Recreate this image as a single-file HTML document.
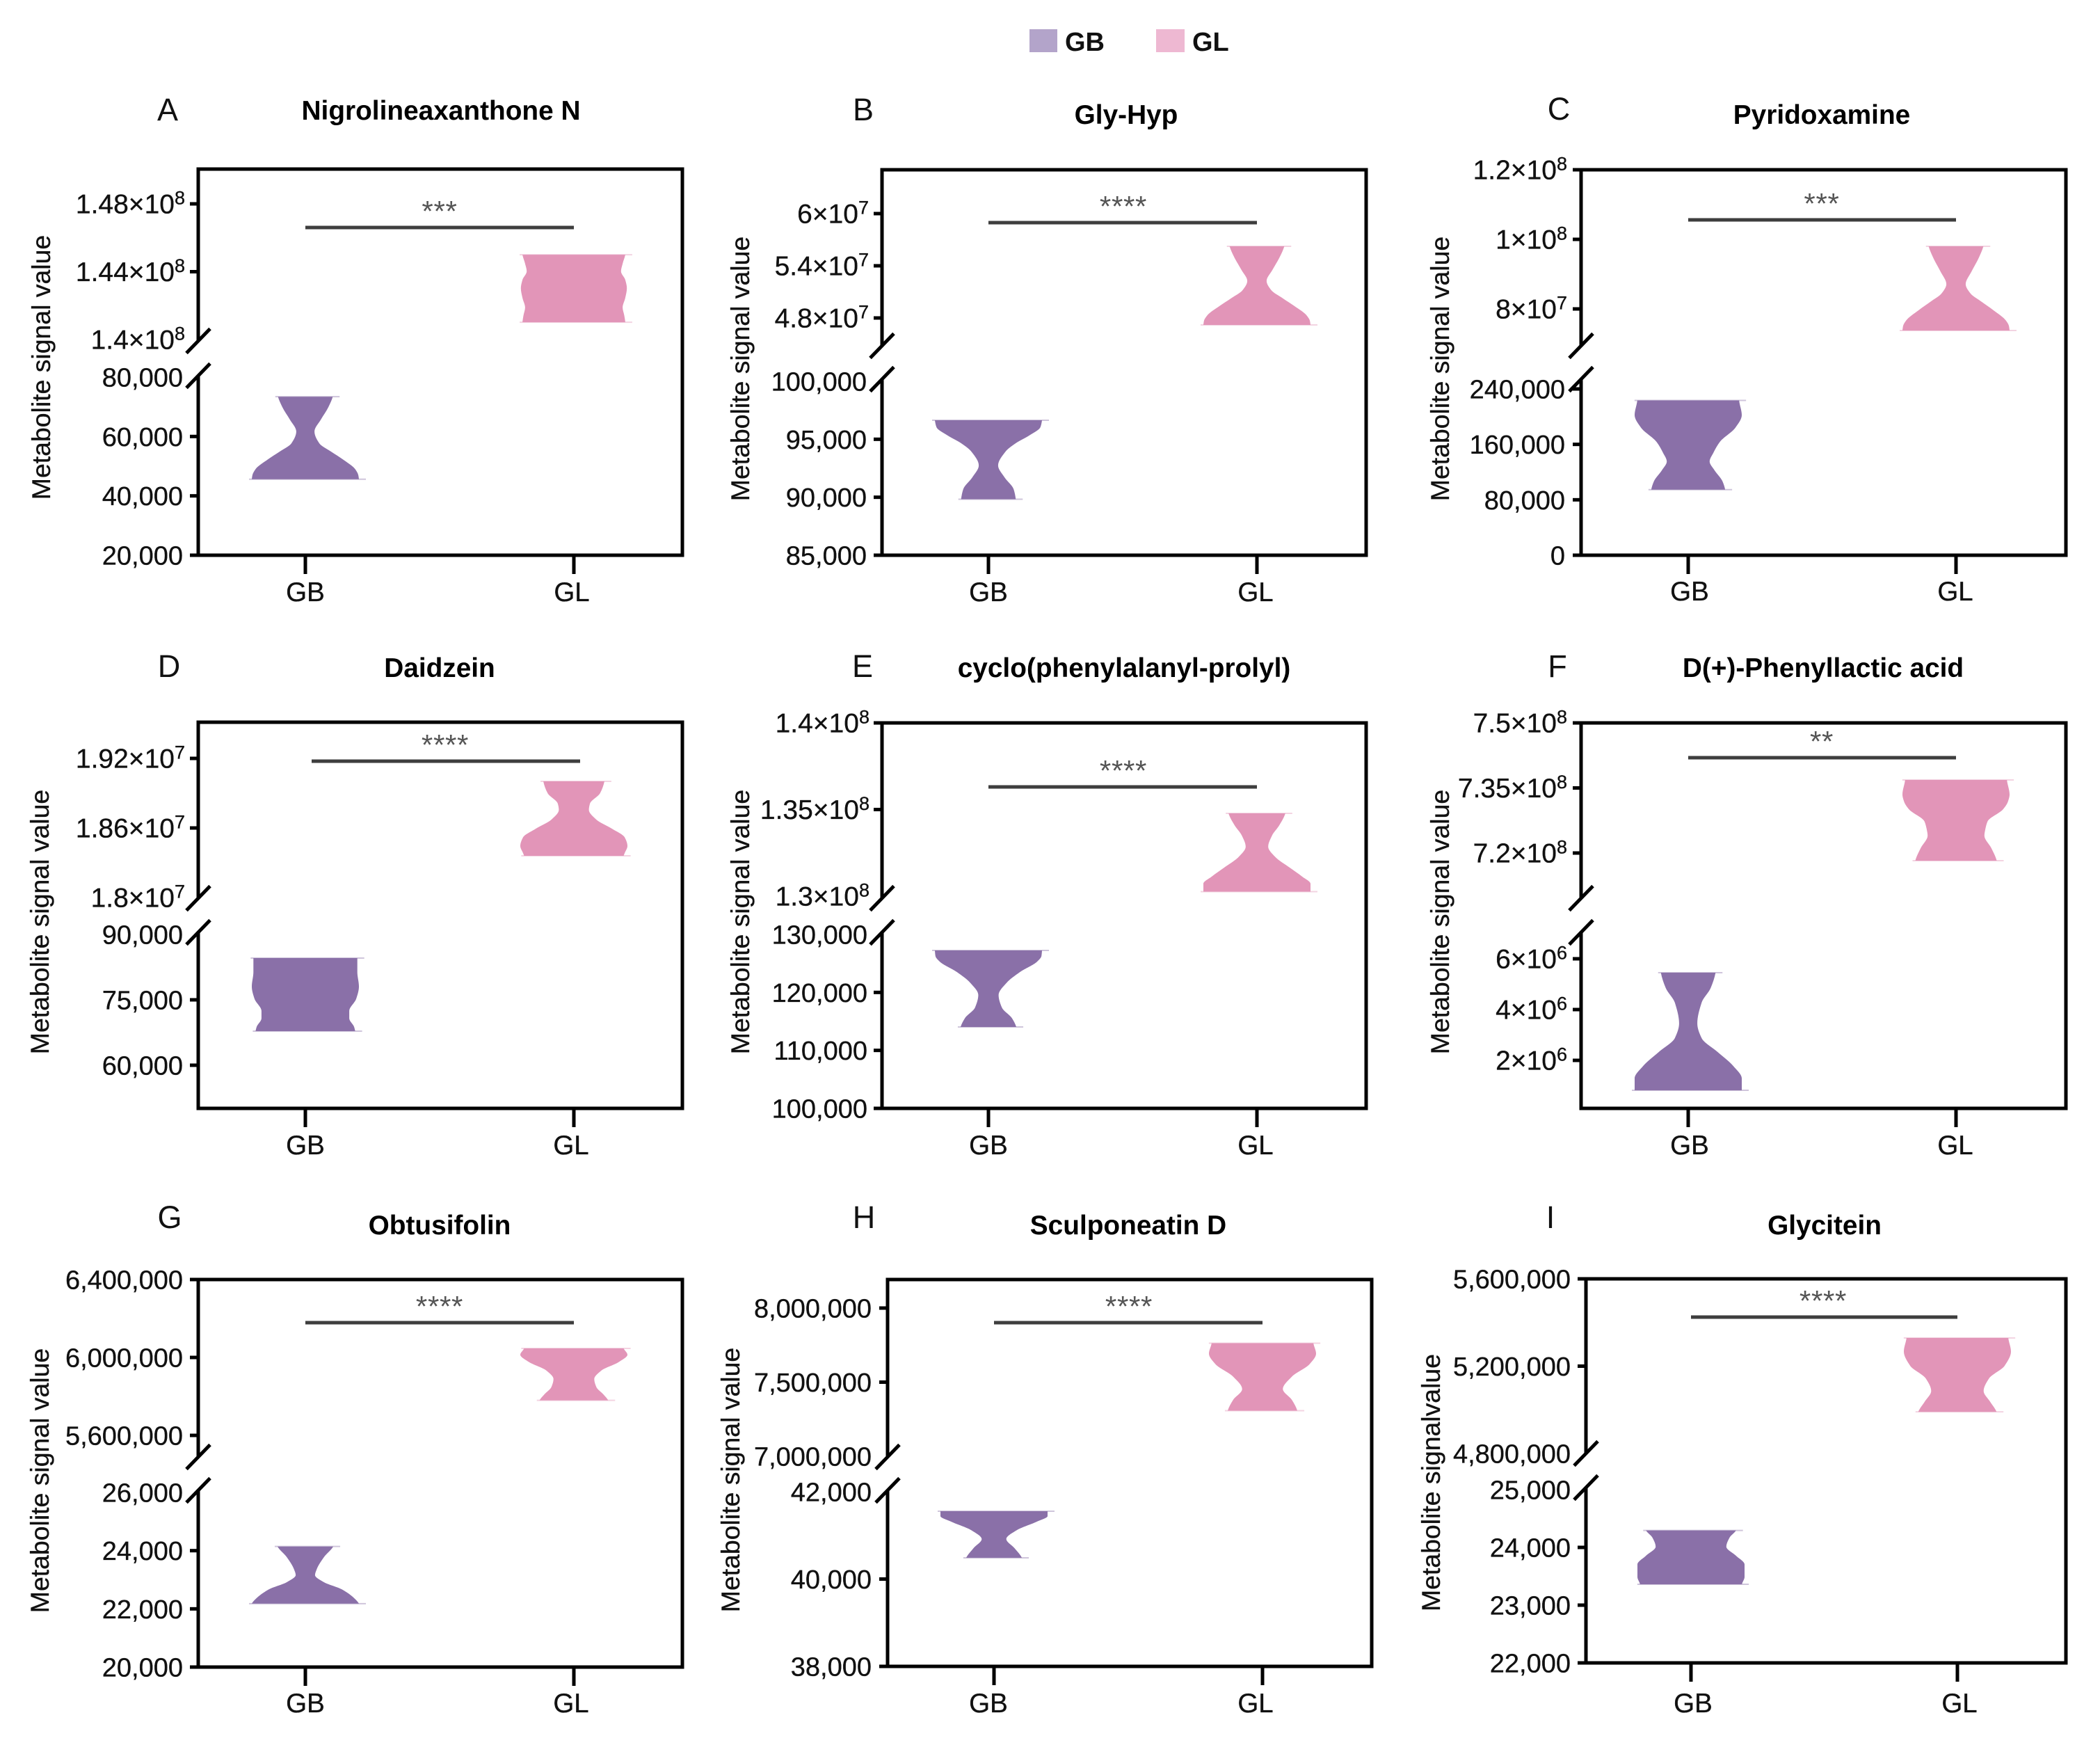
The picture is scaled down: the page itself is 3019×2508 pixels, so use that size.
<!DOCTYPE html>
<html lang="en">
<head>
<meta charset="utf-8">
<title>Metabolite violin plots</title>
<style>
html,body{margin:0;padding:0;background:#fff;}
svg{display:block;font-family:"Liberation Sans",Arial,sans-serif;}
.title{font-size:38.8px;font-weight:bold;text-anchor:middle;fill:#000;}
.letter{font-size:45px;text-anchor:middle;fill:#111;}
.ytitle{font-size:37.4px;text-anchor:middle;fill:#111;stroke:#111;stroke-width:.35px;}
.xlab{font-size:38.5px;text-anchor:middle;fill:#111;stroke:#111;stroke-width:.35px;}
.stars{font-size:42px;letter-spacing:.7px;text-anchor:middle;fill:#555;transform:translateY(-3px);}
.legend{font-size:38px;font-weight:bold;fill:#111;}
.tick{font-size:38px;text-anchor:end;fill:#111;stroke:#111;stroke-width:.35px;}
.tick-sci{font-size:39px;}
</style>
</head>
<body>
<svg id="figure" xmlns="http://www.w3.org/2000/svg" width="3019" height="2508" viewBox="0 0 3019 2508">
<rect x="0" y="0" width="3019" height="2508" fill="#fff"/>
<g>
<rect x="1480" y="42" width="40" height="33" fill="#b3a4ca"/>
<text class="legend" x="1531" y="73">GB</text>
<rect x="1662" y="42" width="41" height="33" fill="#eeb8d2"/>
<text class="legend" x="1714" y="73">GL</text>
</g>

<text class="letter" x="241" y="173">A</text>
<text class="title" x="634" y="172">Nigrolineaxanthone N</text>
<text class="ytitle" transform="translate(72 528) rotate(-90)">Metabolite signal value</text>
<text class="xlab" x="439" y="864">GB</text>
<text class="xlab" x="822" y="864">GL</text>
<text class="stars" x="632" y="321">***</text>

<text class="letter" x="1241" y="173">B</text>
<text class="title" x="1619" y="178">Gly-Hyp</text>
<text class="ytitle" transform="translate(1077 530) rotate(-90)">Metabolite signal value</text>
<text class="xlab" x="1421" y="864">GB</text>
<text class="xlab" x="1805" y="864">GL</text>
<text class="stars" x="1615" y="314">****</text>

<text class="letter" x="2241" y="172">C</text>
<text class="title" x="2619" y="178">Pyridoxamine</text>
<text class="ytitle" transform="translate(2083 530) rotate(-90)">Metabolite signal value</text>
<text class="xlab" x="2429" y="863">GB</text>
<text class="xlab" x="2811" y="863">GL</text>
<text class="stars" x="2619" y="310">***</text>

<text class="letter" x="243" y="973">D</text>
<text class="title" x="632" y="973">Daidzein</text>
<text class="ytitle" transform="translate(70 1325) rotate(-90)">Metabolite signal value</text>
<text class="xlab" x="439" y="1659">GB</text>
<text class="xlab" x="821" y="1659">GL</text>
<text class="stars" x="640" y="1088">****</text>

<text class="letter" x="1240" y="973">E</text>
<text class="title" x="1616" y="973">cyclo(phenylalanyl-prolyl)</text>
<text class="ytitle" transform="translate(1077 1325) rotate(-90)">Metabolite signal value</text>
<text class="xlab" x="1421" y="1659">GB</text>
<text class="xlab" x="1805" y="1659">GL</text>
<text class="stars" x="1615" y="1125">****</text>

<text class="letter" x="2239" y="973">F</text>
<text class="title" x="2621" y="973">D(+)-Phenyllactic acid</text>
<text class="ytitle" transform="translate(2083 1325) rotate(-90)">Metabolite signal value</text>
<text class="xlab" x="2429" y="1659">GB</text>
<text class="xlab" x="2811" y="1659">GL</text>
<text class="stars" x="2619" y="1083">**</text>

<text class="letter" x="244" y="1765">G</text>
<text class="title" x="632" y="1774">Obtusifolin</text>
<text class="ytitle" transform="translate(70 2128) rotate(-90)">Metabolite signal value</text>
<text class="xlab" x="439" y="2461">GB</text>
<text class="xlab" x="821" y="2461">GL</text>
<text class="stars" x="632" y="1895">****</text>

<text class="letter" x="1242" y="1765">H</text>
<text class="title" x="1622" y="1774">Sculponeatin D</text>
<text class="ytitle" transform="translate(1063 2127) rotate(-90)">Metabolite signal value</text>
<text class="xlab" x="1421" y="2461">GB</text>
<text class="xlab" x="1805" y="2461">GL</text>
<text class="stars" x="1623" y="1895">****</text>

<text class="letter" x="2229" y="1765">I</text>
<text class="title" x="2623" y="1774">Glycitein</text>
<text class="ytitle" transform="translate(2070 2131) rotate(-90)">Metabolite signalvalue</text>
<text class="xlab" x="2434" y="2461">GB</text>
<text class="xlab" x="2817" y="2461">GL</text>
<text class="stars" x="2621" y="1887">****</text>
</svg>

<script>
// ---- Panel A ----
const aLowerTicks = [20000, 40000, 60000, 80000];
const aLowerLabels = ['20,000', '40,000', '60,000', '80,000'];
const aUpperTicks = [1.4e8, 1.44e8, 1.48e8];
const aUpperLabels = ['1.4×10^8', '1.44×10^8', '1.48×10^8'];
const aGbValues = [45600, 46900, 49000, 52300, 54900, 57700, 61700, 65700, 69900, 73400];
const aGbDensity = [1, .99, .93, .70, .48, .26, .17, .29, .43, .51];
const aGlValues = [141.02e6, 141.43e6, 141.89e6, 142.46e6, 143.03e6, 143.52e6, 144.02e6, 144.47e6, 145e6];
const aGlDensity = [.96, .94, .91, .96, .99, .96, .88, .91, .96];
// ---- Panel B ----
const bLowerTicks = [85000, 90000, 95000, 100000];
const bLowerLabels = ['85,000', '90,000', '95,000', '100,000'];
const bUpperTicks = [4.8e7, 5.4e7, 6e7];
const bUpperLabels = ['4.8×10^7', '5.4×10^7', '6×10^7'];
const bGbValues = [89830, 90700, 91720, 92740, 93940, 94660, 95320, 96040, 96640];
const bGbDensity = [.51, .47, .30, .18, .32, .51, .76, .97, 1];
const bGlValues = [47.2e6, 47.65e6, 48.28e6, 49.37e6, 50.27e6, 51.18e6, 52.26e6, 53.53e6, 55.06e6, 56.24e6];
const bGlDensity = [1, .99, .93, .70, .48, .27, .18, .29, .43, .51];
// ---- Panel C ----
const cLowerTicks = [0, 80000, 160000, 240000];
const cLowerLabels = ['0', '80,000', '160,000', '240,000'];
const cUpperTicks = [8e7, 1e8, 1.2e8];
const cUpperLabels = ['8×10^7', '1×10^8', '1.2×10^8'];
const cGbValues = [94600, 106600, 122700, 135300, 147900, 163500, 184100, 202200, 223400];
const cGbDensity = [.69, .64, .49, .40, .47, .59, .88, 1, .95];
const cGlValues = [73.8e6, 75e6, 76.7e6, 79.6e6, 82.03e6, 84.45e6, 87.11e6, 90.74e6, 94.85e6, 98e6];
const cGlDensity = [1, .99, .93, .70, .48, .27, .18, .29, .43, .51];
// ---- Panel D ----
const dLowerTicks = [60000, 75000, 90000];
const dLowerLabels = ['60,000', '75,000', '90,000'];
const dUpperTicks = [1.8e7, 1.86e7, 1.92e7];
const dUpperLabels = ['1.8×10^7', '1.86×10^7', '1.92×10^7'];
const dGbValues = [67820, 68780, 70770, 72450, 75240, 78030, 81390, 84570];
const dGbDensity = [.93, .91, .82, .82, .95, 1, .97, .97];
const dGlValues = [18.36e6, 18.384e6, 18.444e6, 18.519e6, 18.594e6, 18.672e6, 18.756e6, 18.81e6, 18.9e6, 19.002e6];
const dGlDensity = [.93, .95, 1, .95, .71, .42, .28, .30, .49, .57];
// ---- Panel E ----
const eLowerTicks = [100000, 110000, 120000, 130000];
const eLowerLabels = ['100,000', '110,000', '120,000', '130,000'];
const eUpperTicks = [1.3e8, 1.35e8, 1.4e8];
const eUpperLabels = ['1.3×10^8', '1.35×10^8', '1.4×10^8'];
const eGbValues = [114040, 115540, 117400, 119560, 121660, 123520, 125320, 126280, 127240];
const eGbDensity = [.52, .44, .25, .19, .34, .59, .91, .99, 1];
const eGlValues = [130.26e6, 130.72e6, 131.14e6, 131.65e6, 132.27e6, 132.85e6, 133.49e6, 134.1e6, 134.78e6];
const eGlDensity = [1, 1, .84, .61, .34, .21, .28, .42, .53];
// ---- Panel F ----
const fLowerTicks = [2e6, 4e6, 6e6];
const fLowerLabels = ['2×10^6', '4×10^6', '6×10^6'];
const fUpperTicks = [7.2e8, 7.35e8, 7.5e8];
const fUpperLabels = ['7.2×10^8', '7.35×10^8', '7.5×10^8'];
const fGbValues = [.822e6, 1.288e6, 1.781e6, 2.329e6, 2.877e6, 3.452e6, 4.274e6, 4.85e6, 5.452e6];
const fGbDensity = [1, 1, .84, .55, .25, .17, .25, .42, .51];
const fGlValues = [718.24e6, 721.12e6, 724.01e6, 725.61e6, 727.3e6, 730.1e6, 731.87e6, 733.47e6, 736.84e6];
const fGlDensity = [.76, .66, .53, .55, .59, .88, .97, 1, .95];
// ---- Panel G ----
const gLowerTicks = [20000, 22000, 24000, 26000];
const gLowerLabels = ['20,000', '22,000', '24,000', '26,000'];
const gUpperTicks = [5600000, 6000000, 6400000];
const gUpperLabels = ['5,600,000', '6,000,000', '6,400,000'];
const gGbValues = [22179, 22419, 22670, 22922, 23161, 23353, 23784, 24143];
const gGbDensity = [1, .88, .68, .34, .18, .21, .35, .52];
const gGlValues = [5780000, 5810700, 5848200, 5889300, 5932100, 5976800, 6014300, 6046400];
const gGlDensity = [.64, .55, .42, .38, .51, .84, 1, .93];
// ---- Panel H ----
const hLowerTicks = [38000, 40000, 42000];
const hLowerLabels = ['38,000', '40,000', '42,000'];
const hUpperTicks = [7000000, 7500000, 8000000];
const hUpperLabels = ['7,000,000', '7,500,000', '8,000,000'];
const hGbValues = [40487, 40710, 40917, 41116, 41315, 41443, 41554];
const hGbDensity = [.52, .38, .23, .42, .80, 1, 1];
const hGlValues = [7307500, 7379800, 7453100, 7537600, 7622100, 7692500, 7762900];
const hGlDensity = [.65, .55, .38, .55, .88, 1, .95];
// ---- Panel I ----
const iLowerTicks = [22000, 23000, 24000, 25000];
const iLowerLabels = ['22,000', '23,000', '24,000', '25,000'];
const iUpperTicks = [4800000, 5200000, 5600000];
const iUpperLabels = ['4,800,000', '5,200,000', '5,600,000'];
const iGbValues = [23362, 23488, 23705, 23856, 24012, 24169, 24294];
const iGbDensity = [.95, 1, 1, .84, .66, .72, .84];
const iGlValues = [4990900, 5037500, 5086200, 5143600, 5201300, 5266900, 5329100];
const iGlDensity = [.73, .61, .49, .59, .88, 1, .95];

// Plot geometry and axis calibration, kept apart from the data above.
const panels = [
  {id:'a',left:285,right:981,top:243,bottom:798,xs:[439,825],bu:490,bl:540,lowerRef:[20000,798,80000,542],upperRef:[1.4e8,488,1.48e8,293],by:327,bx:[439,825],lr:263,
   lt:aLowerTicks,ll:aLowerLabels,ut:aUpperTicks,ul:aUpperLabels,gbV:aGbValues,gbD:aGbDensity,glV:aGlValues,glD:aGlDensity},
  {id:'b',left:1268,right:1964,top:244,bottom:798,xs:[1421,1807],bu:497,bl:545,lowerRef:[85000,798,100000,548],upperRef:[4.8e7,457,6e7,307],by:320,bx:[1421,1807],lr:1246,
   lt:bLowerTicks,ll:bLowerLabels,ut:bUpperTicks,ul:bUpperLabels,gbV:bGbValues,gbD:bGbDensity,glV:bGlValues,glD:bGlDensity},
  {id:'c',left:2273,right:2970,top:244,bottom:798,xs:[2427,2812],bu:497,bl:545,lowerRef:[0,798,240000,559],upperRef:[8e7,444,1.2e8,244],by:316,bx:[2427,2812],lr:2250,
   lt:cLowerTicks,ll:cLowerLabels,ut:cUpperTicks,ul:cUpperLabels,gbV:cGbValues,gbD:cGbDensity,glV:cGlValues,glD:cGlDensity},
  {id:'d',left:285,right:981,top:1038,bottom:1593,xs:[439,825],bu:1291,bl:1340,lowerRef:[60000,1531,90000,1343],upperRef:[1.8e7,1290,1.92e7,1090],by:1094,bx:[448,834],lr:263,
   lt:dLowerTicks,ll:dLowerLabels,ut:dUpperTicks,ul:dUpperLabels,gbV:dGbValues,gbD:dGbDensity,glV:dGlValues,glD:dGlDensity},
  {id:'e',left:1268,right:1964,top:1039,bottom:1593,xs:[1421,1807],bu:1291,bl:1340,lowerRef:[100000,1593,130000,1343],upperRef:[1.3e8,1288,1.4e8,1039],by:1131,bx:[1421,1807],lr:1247,
   lt:eLowerTicks,ll:eLowerLabels,ut:eUpperTicks,ul:eUpperLabels,gbV:eGbValues,gbD:eGbDensity,glV:eGlValues,glD:eGlDensity},
  {id:'f',left:2273,right:2970,top:1039,bottom:1593,xs:[2427,2812],bu:1291,bl:1340,lowerRef:[2e6,1524,6e6,1378],upperRef:[7.2e8,1226,7.5e8,1039],by:1089,bx:[2427,2812],lr:2250,
   lt:fLowerTicks,ll:fLowerLabels,ut:fUpperTicks,ul:fUpperLabels,gbV:fGbValues,gbD:fGbDensity,glV:fGlValues,glD:fGlDensity},
  {id:'g',left:285,right:981,top:1839,bottom:2396,xs:[439,825],bu:2094,bl:2142,lowerRef:[20000,2396,26000,2145],upperRef:[5.6e6,2063,6.4e6,1839],by:1901,bx:[439,825],lr:263,
   lt:gLowerTicks,ll:gLowerLabels,ut:gUpperTicks,ul:gUpperLabels,gbV:gGbValues,gbD:gGbDensity,glV:gGlValues,glD:gGlDensity},
  {id:'h',left:1276,right:1972,top:1839,bottom:2395,xs:[1429,1815],bu:2094,bl:2142,lowerRef:[38000,2395,42000,2144],upperRef:[7e6,2093,8e6,1880],by:1901,bx:[1429,1815],lr:1253,
   lt:hLowerTicks,ll:hLowerLabels,ut:hUpperTicks,ul:hUpperLabels,gbV:hGbValues,gbD:hGbDensity,glV:hGlValues,glD:hGlDensity},
  {id:'i',left:2280,right:2970,top:1838,bottom:2390,xs:[2431,2814],bu:2089,bl:2138,lowerRef:[22000,2390,25000,2141],upperRef:[4.8e6,2089,5.6e6,1838],by:1893,bx:[2431,2814],lr:2258,
   lt:iLowerTicks,ll:iLowerLabels,ut:iUpperTicks,ul:iUpperLabels,gbV:iGbValues,gbD:iGbDensity,glV:iGlValues,glD:iGlDensity}
];

const SVG_NS = 'http://www.w3.org/2000/svg';
const figure = document.getElementById('figure');
const VIOLIN_HALF_WIDTH = 77;
const COLOR_GB = '#8a70a8';
const COLOR_GL = '#e295b8';

function make(tag, parent, attrs) {
  const el = document.createElementNS(SVG_NS, tag);
  for (const k in attrs) el.setAttribute(k, attrs[k]);
  parent.appendChild(el);
  return el;
}

// Broken y axis: values at or above the split use the upper segment.
function yScale(p) {
  const split = (p.lowerRef[2] + p.upperRef[0]) / 2;
  return function (v) {
    const r = v >= split ? p.upperRef : p.lowerRef;
    return r[1] + (v - r[0]) * (r[3] - r[1]) / (r[2] - r[0]);
  };
}

// Monotone cubic through the flank, with x treated as a function of y,
// so waists and bulges round off without overshoot.
function flank(points) {
  const n = points.length;
  const h = [];
  const delta = [];
  for (let i = 0; i < n - 1; i++) {
    h[i] = points[i + 1][1] - points[i][1] || 0.001;
    delta[i] = (points[i + 1][0] - points[i][0]) / h[i];
  }
  const m = [];
  m[0] = delta[0] * 0.6;
  m[n - 1] = delta[n - 2] * 0.6;
  for (let i = 1; i < n - 1; i++) {
    if (delta[i - 1] * delta[i] <= 0) {
      m[i] = 0;
    } else {
      const w1 = 2 * h[i] + h[i - 1];
      const w2 = h[i] + 2 * h[i - 1];
      m[i] = (w1 + w2) / (w1 / delta[i - 1] + w2 / delta[i]);
    }
  }
  let d = '';
  for (let i = 0; i < n - 1; i++) {
    const c1x = points[i][0] + m[i] * h[i] / 3;
    const c1y = points[i][1] + h[i] / 3;
    const c2x = points[i + 1][0] - m[i + 1] * h[i] / 3;
    const c2y = points[i + 1][1] - h[i] / 3;
    d += 'C' + c1x.toFixed(1) + ' ' + c1y.toFixed(1) + ' ' + c2x.toFixed(1) + ' ' + c2y.toFixed(1) + ' ' + points[i + 1][0].toFixed(1) + ' ' + points[i + 1][1].toFixed(1);
  }
  return d;
}

function violinPath(xc, values, density, y) {
  const right = values.map((v, i) => [xc + density[i] * VIOLIN_HALF_WIDTH, y(v)]);
  const left = values.map((v, i) => [xc - density[i] * VIOLIN_HALF_WIDTH, y(v)]).reverse();
  return 'M' + right[0][0].toFixed(1) + ' ' + right[0][1].toFixed(1) + flank(right) +
    'L' + left[0][0].toFixed(1) + ' ' + left[0][1].toFixed(1) + flank(left) + 'Z';
}

// Faint hairlines at the violin's min and max, as in the source figure.
function drawTails(g, xc, values, density, y, color) {
  [0, values.length - 1].forEach(function (i) {
    const half = density[i] * VIOLIN_HALF_WIDTH;
    const tail = make('line', g, {x1: xc - half - 4, x2: xc + half + 10, y1: y(values[i]), y2: y(values[i]), stroke: color, 'stroke-width': 2, opacity: .4});
    
    
  });
}

function drawTick(g, p, y, value, label) {
  const tickIsAtBreak = Math.abs(y - p.bu) <= 8 || Math.abs(y - p.bl) <= 8;
  if (!tickIsAtBreak) {
    const tick = make('line', g, {x1: p.left - 12, x2: p.left, y1: y, y2: y, stroke: '#000', 'stroke-width': 5});
    
    
  }
  const parts = label.split('^');
  const isSci = parts.length > 1;
  const txt = make('text', g, {class: isSci ? 'tick tick-sci' : 'tick', x: isSci ? p.lr + 3 : p.lr, y: y + 13.5});
  
  
  txt.appendChild(document.createTextNode(parts[0]));
  if (isSci) {
    const sup = make('tspan', txt, {dy: -13, 'font-size': 27});
    sup.textContent = parts[1];
  }
}

panels.forEach(function (p) {
  const y = yScale(p);
  const g = make('g', figure, {});
  
  

  drawTails(g, p.xs[0], p.gbV, p.gbD, y, COLOR_GB);
  drawTails(g, p.xs[1], p.glV, p.glD, y, COLOR_GL);

  // Violins sit beneath the frame.
  const gb = make('path', g, {d: violinPath(p.xs[0], p.gbV, p.gbD, y), fill: COLOR_GB});
  
  
  const gl = make('path', g, {d: violinPath(p.xs[1], p.glV, p.glD, y), fill: COLOR_GL});
  
  

  // Frame: top, right and bottom in one stroke.
  const frame = make('path', g, {
    d: 'M' + p.left + ' ' + p.top + 'H' + p.right + 'V' + p.bottom + 'H' + p.left,
    fill: 'none', stroke: '#000', 'stroke-width': 5, 'stroke-linecap': 'square'
  });
  
  

  const axisUpper = make('line', g, {x1: p.left, x2: p.left, y1: p.top - 2.5, y2: p.bu, stroke: '#000', 'stroke-width': 5});
  
  
  const axisLower = make('line', g, {x1: p.left, x2: p.left, y1: p.bl, y2: p.bottom + 2.5, stroke: '#000', 'stroke-width': 5});
  
  

  [p.bu, p.bl].forEach(function (cy) {
    const slash = make('line', g, {x1: p.left - 17, y1: cy + 17.5, x2: p.left + 17, y2: cy - 17.5, stroke: '#000', 'stroke-width': 5});
    
    
  });

  p.lt.forEach(function (v, i) { drawTick(g, p, y(v), v, p.ll[i]); });
  p.ut.forEach(function (v, i) { drawTick(g, p, y(v), v, p.ul[i]); });

  p.xs.forEach(function (x) {
    const xt = make('line', g, {x1: x, x2: x, y1: p.bottom, y2: p.bottom + 27, stroke: '#000', 'stroke-width': 5});
    
    
  });

  const bracket = make('line', g, {x1: p.bx[0], x2: p.bx[1], y1: p.by, y2: p.by, stroke: '#3e3e3e', 'stroke-width': 5});
  
  
});
</script>
</body>
</html>
